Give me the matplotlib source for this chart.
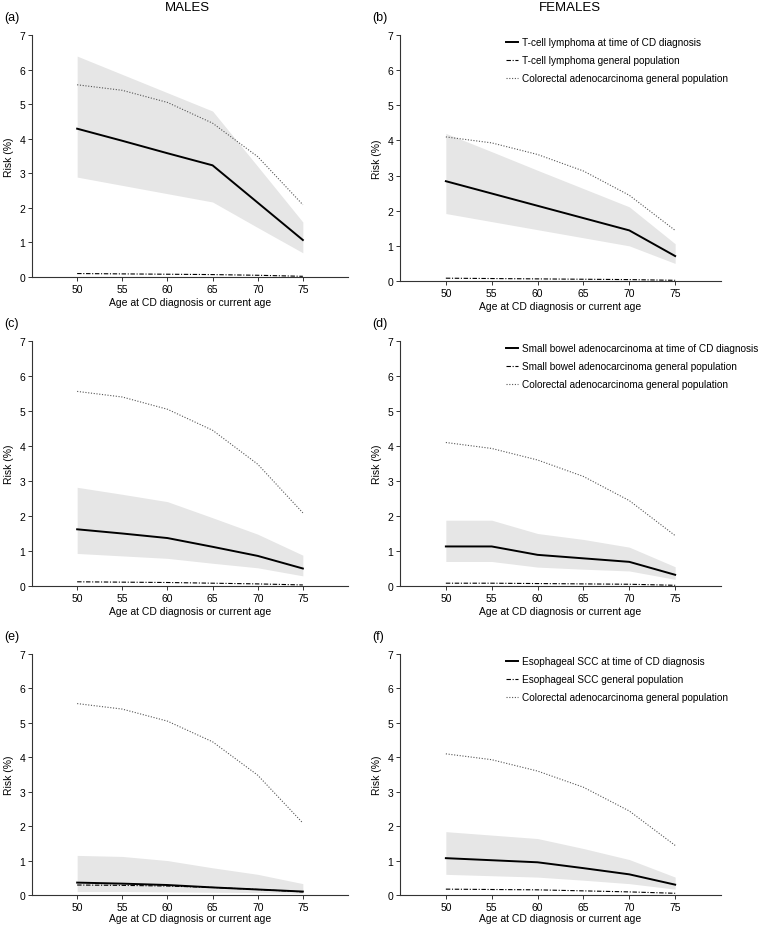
import numpy as np
import matplotlib
matplotlib.use('Agg')
import matplotlib.pyplot as plt

plt.rcParams['font.family'] = ['Liberation Sans', 'DejaVu Sans']

ages = [50, 55, 60, 65, 70, 75]

# colorectal adenocarcinoma general population (reference curve, all panels)
crc_male = [5.56, 5.40, 5.05, 4.45, 3.48, 2.09]
crc_female = [4.10, 3.93, 3.60, 3.13, 2.44, 1.44]

# (a) T-cell lymphoma, males
tcl_m = [4.29, 3.94, 3.58, 3.23, 2.15, 1.07]
tcl_m_lo = [2.89, 2.65, 2.41, 2.17, 1.43, 0.70]
tcl_m_hi = [6.39, 5.86, 5.33, 4.80, 3.20, 1.59]
tcl_m_gen = [0.10, 0.09, 0.08, 0.07, 0.05, 0.02]

# (b) T-cell lymphoma, females
tcl_f = [2.84, 2.49, 2.14, 1.79, 1.44, 0.71]
tcl_f_lo = [1.92, 1.69, 1.46, 1.23, 1.00, 0.50]
tcl_f_hi = [4.20, 3.68, 3.15, 2.63, 2.11, 1.06]
tcl_f_gen = [0.08, 0.07, 0.06, 0.05, 0.04, 0.02]

# (c) small bowel adenocarcinoma, males
sba_m = [1.62, 1.50, 1.37, 1.12, 0.86, 0.50]
sba_m_lo = [0.93, 0.86, 0.79, 0.65, 0.52, 0.29]
sba_m_hi = [2.82, 2.62, 2.41, 1.95, 1.48, 0.88]
sba_m_gen = [0.12, 0.11, 0.10, 0.08, 0.06, 0.03]

# (d) small bowel adenocarcinoma, females
sba_f = [1.13, 1.13, 0.89, 0.79, 0.69, 0.32]
sba_f_lo = [0.70, 0.70, 0.54, 0.48, 0.43, 0.19]
sba_f_hi = [1.88, 1.88, 1.50, 1.33, 1.11, 0.55]
sba_f_gen = [0.08, 0.08, 0.07, 0.06, 0.05, 0.02]

# (e) esophageal SCC, males
scc_m = [0.36, 0.33, 0.29, 0.22, 0.16, 0.10]
scc_m_lo = [0.10, 0.10, 0.09, 0.08, 0.07, 0.05]
scc_m_hi = [1.15, 1.12, 1.00, 0.79, 0.60, 0.33]
scc_m_gen = [0.29, 0.28, 0.26, 0.22, 0.16, 0.09]

# (f) esophageal SCC, females
scc_f = [1.07, 1.01, 0.95, 0.78, 0.60, 0.30]
scc_f_lo = [0.60, 0.56, 0.52, 0.43, 0.33, 0.17]
scc_f_hi = [1.84, 1.74, 1.64, 1.35, 1.03, 0.52]
scc_f_gen = [0.17, 0.16, 0.15, 0.12, 0.09, 0.05]

panels = [
    ('(a)', tcl_m, tcl_m_lo, tcl_m_hi, tcl_m_gen, crc_male, None),
    ('(b)', tcl_f, tcl_f_lo, tcl_f_hi, tcl_f_gen, crc_female, 'T-cell lymphoma'),
    ('(c)', sba_m, sba_m_lo, sba_m_hi, sba_m_gen, crc_male, None),
    ('(d)', sba_f, sba_f_lo, sba_f_hi, sba_f_gen, crc_female, 'Small bowel adenocarcinoma'),
    ('(e)', scc_m, scc_m_lo, scc_m_hi, scc_m_gen, crc_male, None),
    ('(f)', scc_f, scc_f_lo, scc_f_hi, scc_f_gen, crc_female, 'Esophageal SCC'),
]

W, H = 758, 928
# axes boxes in pixels: left, top, right, bottom
boxes = [
    (32, 36, 348, 278), (400, 36, 721, 282),
    (32, 342, 348, 587), (400, 342, 721, 587),
    (32, 655, 348, 896), (400, 655, 721, 896),
]
fs = 7.5

fig = plt.figure(figsize=(W / 100, H / 100), dpi=100)

for (tag, mid, lo, hi, gen, crc, cancer), (l, t, r, b) in zip(panels, boxes):
    ax = fig.add_axes([l / W, 1 - b / H, (r - l) / W, (b - t) / H])
    ax.fill_between(ages, lo, hi, color='#e6e6e6', linewidth=0, zorder=1)
    h1, = ax.plot(ages, mid, color='black', lw=1.4, zorder=4)
    h2, = ax.plot(ages, gen, color='black', lw=0.8, linestyle=(0, (4, 1.5, 1, 1.5)), zorder=3)
    h3, = ax.plot(ages, crc, color='#555555', lw=0.8, linestyle=(0, (1, 1.5)), zorder=2)
    ax.set_xlim(45, 80)
    ax.set_ylim(0, 7)
    ax.set_xticks(ages)
    ax.set_yticks(range(0, 8))
    for s in ['top', 'right']:
        ax.spines[s].set_visible(False)
    for s in ['left', 'bottom']:
        ax.spines[s].set_linewidth(0.8)
        ax.spines[s].set_color('#333333')
    ax.tick_params(labelsize=fs, length=3, width=0.7, pad=2, colors='#333333',
                   labelcolor='black')
    ax.set_xlabel('Age at CD diagnosis or current age', fontsize=fs,
                  labelpad=1 if b > 800 else 2)
    ax.set_ylabel('Risk (%)', fontsize=fs, labelpad=4)
    fig.text((l - 28) / W, 1 - (t - 18) / H, tag, fontsize=9, va='center', ha='left')
    if cancer is not None:
        ax.legend([h1, h2, h3],
                  [cancer + ' at time of CD diagnosis',
                   cancer + ' general population',
                   'Colorectal adenocarcinoma general population'],
                  loc='upper left', bbox_to_anchor=(0.33, 0.99), frameon=False,
                  fontsize=7.2, handlelength=1.2, handletextpad=0.4,
                  labelspacing=0.8, borderpad=0, borderaxespad=0)

fig.text(187 / W, 1 - 8 / H, 'MALES', fontsize=9.5, ha='center', va='center')
fig.text(570 / W, 1 - 8 / H, 'FEMALES', fontsize=9.5, ha='center', va='center')

fig.savefig('out.png', dpi=100)
